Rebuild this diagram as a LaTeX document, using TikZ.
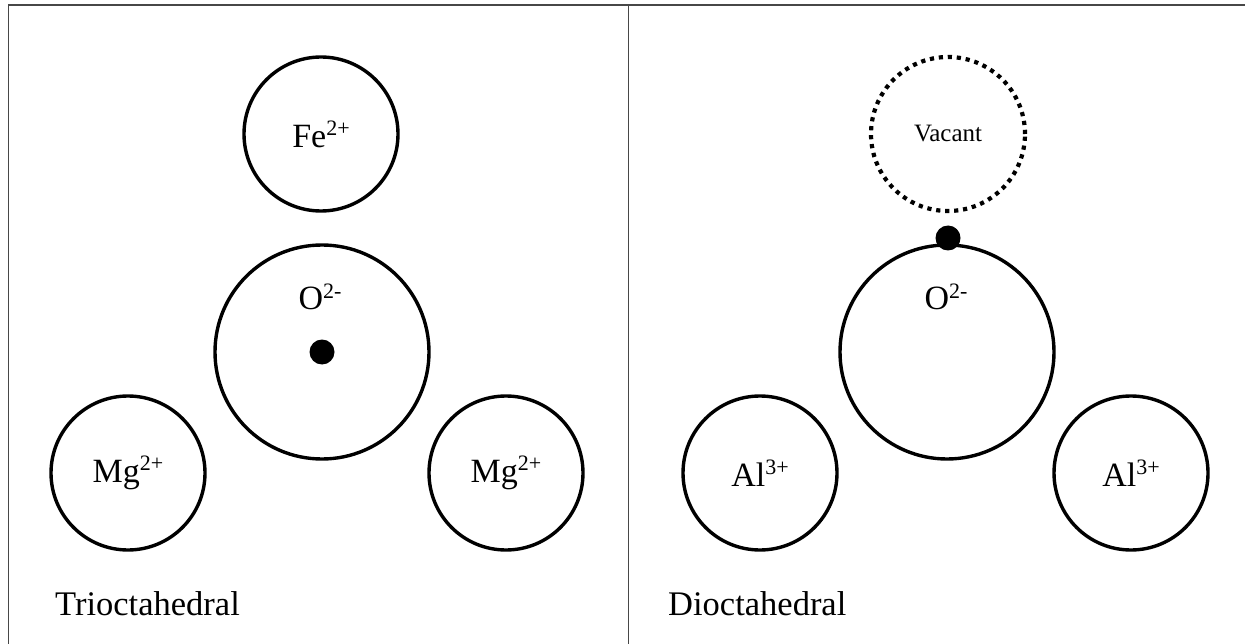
\documentclass[tikz,border=0pt]{standalone}
\usepackage{fontspec}
\setmainfont{Liberation Serif}
\newcommand{\ionup}[1]{\raisebox{12pt}{\fontsize{22}{22}\selectfont #1}}
\begin{document}
\begin{tikzpicture}[x=1pt,y=-1pt,
  frame/.style={draw=black!72, line width=1.6pt},
  ion/.style={circle, draw, line width=3.4pt, minimum size=154pt, inner sep=0pt,
    font=\fontsize{34}{40}\selectfont},
  anion/.style={circle, draw, line width=3.4pt, minimum size=214pt, inner sep=0pt},
  vacancy/.style={circle, draw, line width=4.2pt, dash pattern=on 4.2pt off 4.8pt,
    minimum size=154pt, inner sep=0pt, font=\fontsize{25}{30}\selectfont},
  hole/.style={circle, fill, minimum size=25pt, inner sep=0pt},
  chg/.style={inner sep=0pt, anchor=base, font=\fontsize{34}{40}\selectfont},
  caption/.style={inner sep=0pt, anchor=base west, font=\fontsize{34.5}{40}\selectfont}]
\useasboundingbox (0,0) rectangle (1245,644);

% panel frame: top rule, left rule, divider
\coordinate (tl) at (8.5,5);
\coordinate (tr) at (1245,5);
\coordinate (bl) at (8.5,644);
\coordinate (tm) at (628.5,5);
\coordinate (bm) at (628.5,644);
\draw[frame] (bl) -- (tl) -- (tr);
\draw[frame] (tm) -- (bm);

% trioctahedral sheet
\node[ion] (fe) at (321,134) {Fe\ionup{2+}};
\node[anion] (oxA) at (322,352) {};
\node[chg] (oxAlbl) at (320,310) {O\ionup{2-}};
\node[hole] (hA) at (322,352) {};
\node[ion] (mgL) at (128,473) {Mg\ionup{2+}};
\node[ion] (mgR) at (506,473) {Mg\ionup{2+}};
\node[caption] (tri) at (55,615) {Trioctahedral};

% dioctahedral sheet
\node[vacancy] (vac) at (948,134) {Vacant};
\node[anion] (oxB) at (947,352) {};
\node[chg] (oxBlbl) at (946,310) {O\ionup{2-}};
\node[hole] (hB) at (948,238) {};
\node[ion] (alL) at (760,473) {Al\ionup{3+}};
\node[ion] (alR) at (1131,473) {Al\ionup{3+}};
\node[caption] (di) at (668,615) {Dioctahedral};
\end{tikzpicture}
\end{document}
